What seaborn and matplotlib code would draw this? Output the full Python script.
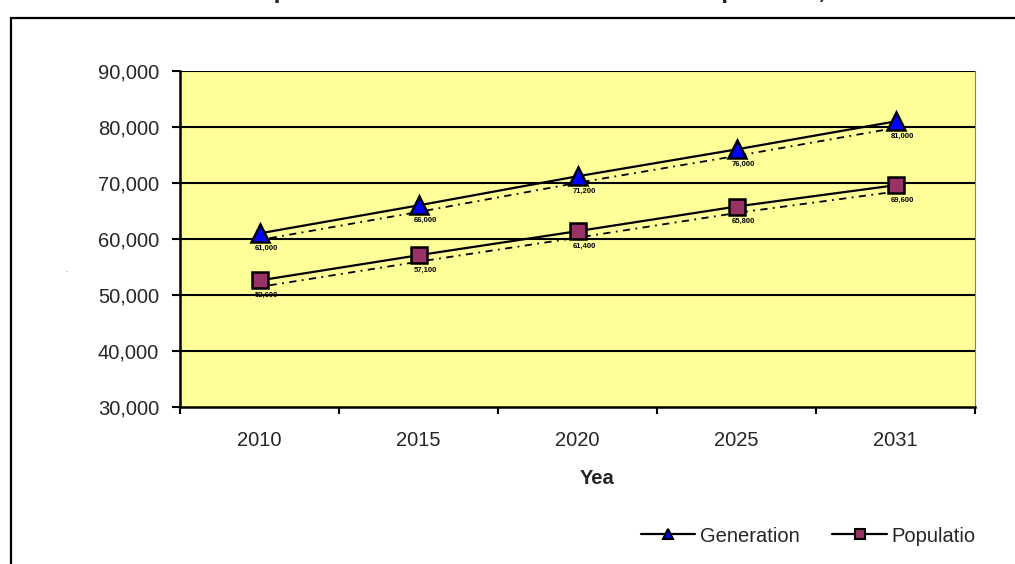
import matplotlib
matplotlib.use("Agg")
import matplotlib.pyplot as plt
import matplotlib.transforms as mtransforms
from matplotlib.lines import Line2D
from matplotlib.patches import Rectangle
from matplotlib.ticker import FuncFormatter, FixedLocator
import numpy as np
import pandas as pd
import seaborn as sns

# Forecast values by year
years = ["2010", "2015", "2020", "2025", "2031"]
generation = [61000, 66000, 71200, 76000, 81000]
population = [52600, 57100, 61400, 65800, 69600]
y_ticks = [30000, 40000, 50000, 60000, 70000, 80000, 90000]

sns.set_style("white")
plt.rcParams["font.family"] = ["Liberation Sans", "DejaVu Sans"]

W, H = 1015, 564
FS = 14.5
fig = plt.figure(figsize=(W / 100, H / 100), dpi=100)
fig.patch.set_facecolor("white")

# outer chart-area frame
fig.patches.append(Rectangle((10.5 / W, 0 - 0.01), 1.05, (H - 17.5) / H + 0.01,
                             transform=fig.transFigure, fill=False,
                             edgecolor="black", linewidth=1.6, zorder=0))

ax = fig.add_axes([180 / W, (H - 407) / H, 795 / W, 336 / H])
ax.set_facecolor("#FFFF99")

df = pd.DataFrame({"pos": np.arange(len(years)), "year": years,
                   "Generation": generation, "Population": population})

series = [("Generation", "^", "#0000FF", 13), ("Population", "s", "#993366", 12)]

for col, mk, fc, ms in series:
    # dotted trend companion line drawn a few pixels below the series
    shift = ax.transData + mtransforms.ScaledTranslation(3 / 100, -6 / 100, fig.dpi_scale_trans)
    ax.plot(df["pos"], df[col], color="black", linewidth=1.3,
            linestyle=(0, (1, 3, 4, 3)), transform=shift, zorder=3)
    sns.lineplot(data=df, x="pos", y=col, ax=ax, color="black", linewidth=1.6,
                 marker=mk, markersize=ms, markerfacecolor=fc,
                 markeredgecolor="black", markeredgewidth=1.8, zorder=5,
                 legend=False)
    # small value labels under each marker
    for p, v in zip(df["pos"], df[col]):
        ax.annotate(f"{v:,}", (p, v), xytext=(5, -11), textcoords="offset points",
                    fontsize=5.5, fontweight="bold", color="black",
                    ha="center", va="center", zorder=6)

ax.set_xlim(-0.5, len(years) - 0.5)
ax.set_ylim(30000, 90000)
ax.yaxis.set_major_locator(FixedLocator(y_ticks))
ax.yaxis.set_major_formatter(FuncFormatter(lambda v, _: f"{int(v):,}"))
ax.set_xticks(df["pos"])
ax.set_xticklabels(years)
ax.set_xticks(np.arange(-0.5, len(years)), minor=True)

for yv in y_ticks[1:]:
    ax.axhline(yv, color="black", linewidth=1.5, zorder=1)

ax.tick_params(axis="y", which="major", direction="out", length=6, width=1.5,
               color="black", labelsize=FS, pad=9, left=True)
ax.tick_params(axis="x", which="major", length=0, labelsize=FS, pad=17)
ax.tick_params(axis="x", which="minor", direction="out", length=5, width=1.5,
               color="black", bottom=True)

for side in ["left", "bottom"]:
    ax.spines[side].set_color("black")
    ax.spines[side].set_linewidth(1.8)
ax.spines["top"].set_visible(False)
ax.spines["right"].set_color("#808080")
ax.spines["right"].set_linewidth(0.8)
ax.set_xlabel("")
ax.set_ylabel("")

# axis titles
fig.text(597 / W, 1 - 478 / H, "Yea", ha="center", va="center",
         fontsize=FS, fontweight="bold")
fig.text(67 / W, 1 - 272 / H, "-", ha="center", va="center", fontsize=4,
         color="#555555")

# chart title, running off the top edge
fig.text(585 / W, 1 + 2 / H, "Comparison of Electric Generation and Population, 2010-2031",
         ha="center", va="baseline", fontsize=18, fontweight="bold")

handles = [Line2D([], [], color="black", linewidth=1.6, marker="^", markersize=7,
                  markerfacecolor="#0000FF", markeredgecolor="black", markeredgewidth=1.5),
           Line2D([], [], color="black", linewidth=1.6, marker="s", markersize=7,
                  markerfacecolor="#993366", markeredgecolor="black", markeredgewidth=1.5)]
fig.legend(handles, ["Generation", "Populatio"], loc="center left",
           bbox_to_anchor=(641 / W, 1 - 536 / H), ncol=2, frameon=False,
           fontsize=FS, handlelength=2.7, handletextpad=0.25, columnspacing=1.6,
           borderaxespad=0, borderpad=0)

fig.savefig("out.png", dpi=100)
